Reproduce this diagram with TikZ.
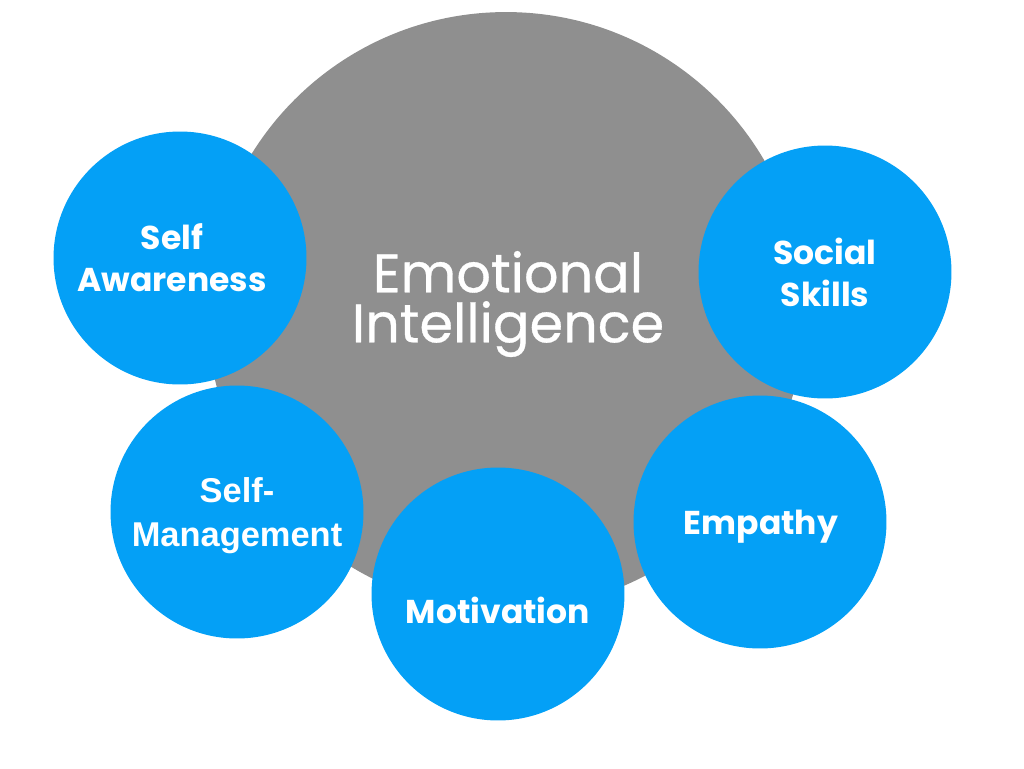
\documentclass[tikz,border=0pt]{standalone}
\usepackage{fontspec}
\newfontfamily\popfont{Poppins}
\newfontfamily\pophubfont[FakeBold=0.6]{Poppins}
\newfontfamily\arialfont{Liberation Sans}
\usetikzlibrary{positioning}

\definecolor{eiblue}{RGB}{4,160,246}
\definecolor{eigray}{RGB}{143,143,143}

\begin{document}
\begin{tikzpicture}[
    x=0.02cm, y=-0.02cm,
    hub/.style={circle, fill=eigray, minimum size=11.96cm, inner sep=0pt},
    topic/.style={circle, fill=eiblue, minimum size=5.06cm, inner sep=0pt},
    hubtext/.style={text=white, align=center,
                    font=\pophubfont\fontsize{30.8}{28.5}\selectfont},
    topictext/.style={text=white, align=center,
                      font=\popfont\bfseries\fontsize{18.8}{23.9}\selectfont},
    arialtext/.style={topictext,
                      font=\arialfont\bfseries\fontsize{19.6}{25}\selectfont}
]
\fill[white] (0,0) rectangle (1024,768);
\useasboundingbox (0,0) rectangle (1024,768);

% the big circle in the back
\node[hub] (ei) at (506,311) {};
\node[hubtext] (eilabel) at (508,304) {Emotional\\Intelligence};

% the five parts
\node[topic] (aware) at (180,258) {};
\node[topic] (manage) at (237,512) {};
\node[topic] (motiv) at (498,594) {};
\node[topic] (empathy) at (760,522) {};
\node[topic] (social) at (825,272) {};

\node[topictext] (awarelabel) at (172,258) {Self\\Awareness};
\node[arialtext] (managelabel) at (237,516) {Self-\\Management};
\node[topictext] (motivlabel) at (498,610) {Motivation};
\node[topictext] (empathylabel) at (761,527) {Empathy};
\node[topictext] (sociallabel) at (825,272) {Social\\Skills};
\end{tikzpicture}
\end{document}
